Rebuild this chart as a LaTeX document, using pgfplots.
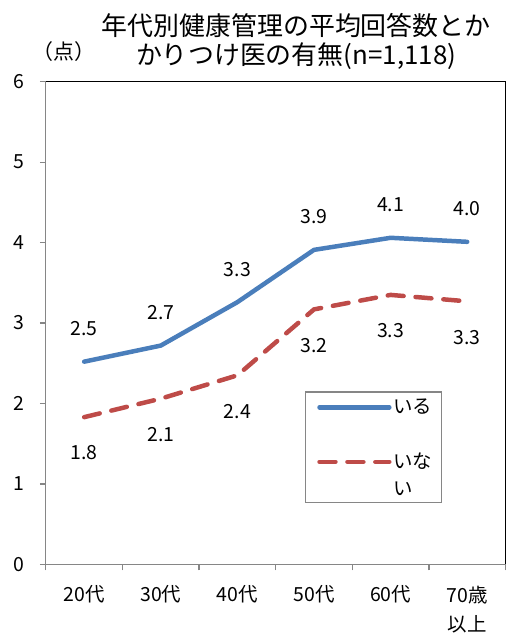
\documentclass[border=0pt]{standalone}
\usepackage{pgfplots}
\pgfplotsset{compat=1.18}
\usepackage{fontspec}
\setmainfont{Noto Sans CJK JP}
\definecolor{ser1}{HTML}{4A7EBB}
\definecolor{ser2}{HTML}{BE4B48}
\definecolor{axgray}{HTML}{868686}
\begin{document}
\begin{tikzpicture}
\begin{axis}[
  scale only axis, width=461pt, height=484pt,
  at={(0,0)}, anchor=south west,
  xmin=-0.5, xmax=5.5, ymin=0, ymax=6,
  axis x line*=bottom, axis y line*=left,
  axis line style={axgray, line width=1.2pt, -},
  xtick={0,...,5},
  xticklabels={20代,30代,40代,50代,60代,{70歳\\以上}},
  major x tick style={draw=none},
  minor xtick={-0.5,0.5,...,5.5},
  minor tick length=6pt,
  every minor tick/.style={axgray, line width=1.2pt},
  ytick={0,...,6},
  major tick length=6pt,
  every major tick/.style={axgray, line width=1.2pt},
  tick align=outside,
  xticklabel style={font=\fontsize{19.5}{29}\selectfont, align=center, anchor=north, yshift=-12pt},
  yticklabel style={font=\fontsize{19.5}{23}\selectfont, anchor=center, xshift=-21pt},
  /pgf/number format/assume math mode=true,
  clip=false,
  legend style={at={(rel axis cs:0.564,0.357)}, anchor=north west, xshift=4pt,
    draw=none, fill=none, font=\fontsize{19.5}{27}\selectfont,
    inner xsep=8pt, inner ysep=5pt, row sep=34pt},
  legend cell align=left,
  legend image code/.code={\draw[#1] (0pt,0pt) -- (70pt,0pt);},
  nodes near coords,
  point meta=explicit symbolic,
  every node near coord/.append style={font=\fontsize{19.5}{23}\selectfont, anchor=center},
]
\addplot[ser1, line width=4.5pt, line join=round, line cap=round,
  every node near coord/.append style={text=black, yshift=33pt}]
  table[meta=lab] {
x y lab
0 2.52 2.5
1 2.72 2.7
2 3.26 3.3
3 3.91 3.9
4 4.06 4.1
5 4.01 4.0
};
\addlegendentry{いる}
\addplot[ser2, line width=4.5pt, line join=round, line cap=round, dash pattern=on 16pt off 12pt,
  every node near coord/.append style={text=black, yshift=-36pt}]
  table[meta=lab] {
x y lab
0 1.83 1.8
1 2.06 2.1
2 2.35 2.4
3 3.17 3.2
4 3.35 3.3
5 3.27 3.3
};
\addlegendentry{\parbox[t]{40pt}{いな\\い}}
\draw[black, line width=1.2pt] (rel axis cs:0,1) -- (rel axis cs:1,1) -- (rel axis cs:1,0);
\draw[axgray, line width=1.2pt] (rel axis cs:0.564,0.128) rectangle (rel axis cs:0.861,0.357);
\end{axis}
\node[align=center, font=\fontsize{26}{29}\selectfont] at (251pt,524pt) {年代別健康管理の平均回答数とか\\かりつけ医の有無(n=1,118)};
\node[font=\fontsize{21}{24}\selectfont] at (18pt,514pt) {（点）};
\useasboundingbox (-46pt,-70pt) rectangle (462pt,566pt);
\end{tikzpicture}
\end{document}
